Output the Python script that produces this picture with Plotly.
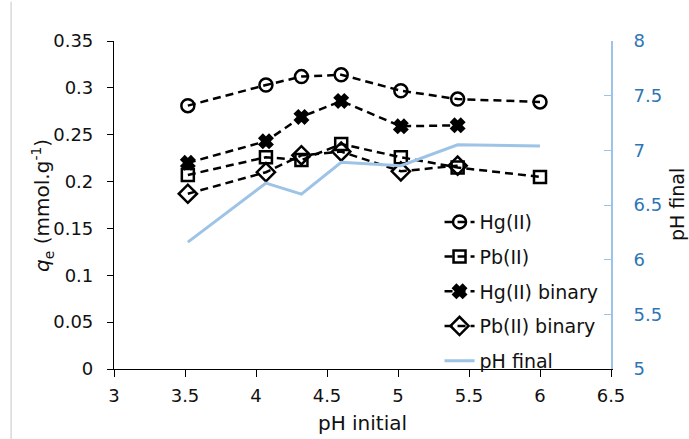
import plotly.graph_objects as go

ph_initial = [3.52, 4.07, 4.32, 4.60, 5.02, 5.42, 6.00]
hg = [0.281, 0.303, 0.312, 0.314, 0.297, 0.288, 0.285]
pb = [0.207, 0.226, 0.223, 0.240, 0.226, 0.215, 0.205]
ph_binary = [3.52, 4.07, 4.32, 4.60, 5.02, 5.42]
hg_bin = [0.220, 0.243, 0.269, 0.286, 0.259, 0.260]
pb_bin = [0.187, 0.210, 0.228, 0.232, 0.211, 0.217]
ph_final = [6.16, 6.70, 6.60, 6.89, 6.86, 7.05, 7.04]

x_ticks = [3, 3.5, 4, 4.5, 5, 5.5, 6, 6.5]
x_ticktext = ["3", "3.5", "4", "4.5", "5", "5.5", "6", "6.5"]
y_ticks = [0, 0.05, 0.1, 0.15, 0.2, 0.25, 0.3, 0.35]
y_ticktext = ["0", "0.05", "0.1", "0.15", "0.2", "0.25", "0.3", "0.35"]
y2_ticks = [5, 5.5, 6, 6.5, 7, 7.5, 8]
y2_ticktext = ["5", "5.5", "6", "6.5", "7", "7.5", "8"]

FONT = "DejaVu Sans"
TXT = "#111111"
dash = "8px,5px"

fig = go.Figure()

def add_series(name, x, y, symbol, group, size=13):
    fig.add_trace(go.Scatter(
        x=x, y=y, name=name, mode="lines+markers", legendgroup=group,
        line=dict(color="black", width=2.5, dash=dash),
        marker=dict(symbol=symbol, size=size, color="black",
                    line=dict(color="black", width=2.5)),
    ))

add_series("Hg(II)", ph_initial, hg, "circle-open", "a")
add_series("Pb(II)", ph_initial, pb, "square-open", "b", 12)
add_series("Hg(II) binary", ph_binary, hg_bin, "x", "c", 11)
add_series("Pb(II) binary", ph_binary, pb_bin, "diamond-open", "d", 14)

fig.add_trace(go.Scatter(
    x=ph_initial, y=ph_final, name="pH final", mode="lines", legendgroup="e",
    line=dict(color="#9DC3E6", width=3), yaxis="y2",
))

fig.update_layout(
    width=689, height=439,
    margin=dict(l=114, r=78, t=41, b=70, autoexpand=False),
    paper_bgcolor="white", plot_bgcolor="white",
    font=dict(family=FONT, size=18, color=TXT),
    showlegend=True,
    legend=dict(x=0.655, y=0.506, xanchor="left", yanchor="top",
                bgcolor="rgba(0,0,0,0)", font=dict(size=19, family=FONT, color=TXT),
                traceorder="grouped", tracegroupgap=7),
    xaxis=dict(range=[3, 6.5], tickvals=x_ticks, ticktext=x_ticktext,
               showgrid=False, zeroline=False, showline=True,
               linecolor="black", linewidth=1.2, ticks="outside",
               ticklen=7, tickcolor="black", ticklabelstandoff=3,
               tickfont=dict(size=18, family=FONT, color=TXT),
               title=dict(text="pH initial", standoff=11,
                          font=dict(size=20, family=FONT, color=TXT))),
    yaxis=dict(range=[0, 0.35], tickvals=y_ticks, ticktext=y_ticktext,
               showgrid=False, zeroline=False, showline=True,
               linecolor="black", linewidth=1.2, ticks="outside",
               ticklen=6, tickcolor="black", ticklabelstandoff=10,
               tickfont=dict(size=18, family=FONT, color=TXT)),
    yaxis2=dict(range=[5, 8], tickvals=y2_ticks, ticktext=y2_ticktext,
                overlaying="y", side="right", showgrid=False, zeroline=False,
                showline=True, linecolor="#9DC3E6", linewidth=2,
                ticks="inside", ticklen=7, tickcolor="#9DC3E6",
                ticklabelstandoff=17,
                tickfont=dict(color="#2E75B6", size=18, family=FONT)),
    annotations=[
        dict(text="<i>q</i><sub>e</sub> (mmol.g<sup>-1</sup>)", xref="paper", yref="paper",
             x=-0.145, y=0.5, xanchor="center", yanchor="middle",
             textangle=-90, showarrow=False,
             font=dict(size=20, family=FONT, color=TXT)),
        dict(text="pH final", xref="paper", yref="paper",
             x=1.133, y=0.5, xanchor="center", yanchor="middle",
             textangle=-90, showarrow=False,
             font=dict(size=19, family=FONT, color=TXT)),
    ],
    shapes=[dict(type="line", xref="paper", yref="paper",
                 x0=-0.207, x1=-0.207, y0=-0.25, y1=1.12,
                 line=dict(color="#D9D9D9", width=1.5))],
)

fig.write_html(
    "out.html",
    config={"displayModeBar": False},
    post_script="document.body.style.margin='0';document.body.style.overflow='hidden';",
)
